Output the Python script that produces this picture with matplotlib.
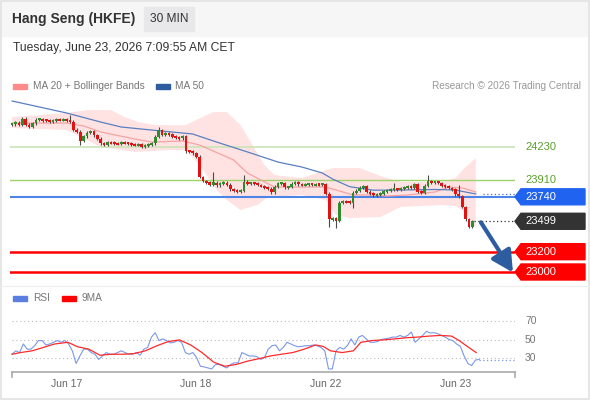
import numpy as np
import matplotlib
matplotlib.use("Agg")
import matplotlib.pyplot as plt
from matplotlib.patches import Rectangle, Polygon
import matplotlib.transforms as mtransforms

plt.rcParams['font.family'] = ['Liberation Sans', 'DejaVu Sans']

# ---------------- data ----------------
title = "Hang Seng (HKFE)"
timeframe = "30 MIN"
timestamp = "Tuesday, June 23, 2026 7:09:55 AM CET"
copyright_text = "Research \u00a9 2026 Trading Central"

first_open = 24450
closes = [
    24455, 24470, 24450, 24510, 24450, 24430, 24465, 24500, 24505, 24495,
    24490, 24485, 24495, 24500, 24498, 24502, 24495, 24480, 24400, 24380,
    24290, 24335, 24370, 24385, 24345, 24310, 24265, 24250, 24275, 24272,
    24266, 24262, 24274, 24270, 24262, 24258, 24250, 24256, 24230, 24246,
    24258, 24268, 24330, 24395, 24350, 24365, 24352, 24335, 24322, 24318,
    24335, 24190, 24185, 24170, 24135, 23935, 23895, 23880, 23862, 23880,
    23855, 23872, 23880, 23860, 23812, 23800, 23792, 23800, 23890, 23870,
    23875, 23868, 23856, 23846, 23832, 23818, 23786, 23840, 23872, 23876,
    23832, 23836, 23870, 23886, 23862, 23856, 23860, 23866, 23858, 23862,
    23860, 23866, 23770, 23520, 23530, 23505, 23680, 23695, 23690, 23680,
    23780, 23800, 23830, 23842, 23790, 23770, 23756, 23760, 23775, 23790,
    23800, 23812, 23815, 23810, 23822, 23835, 23840, 23830, 23862, 23790,
    23780, 23850, 23895, 23880, 23886, 23876, 23850, 23840, 23826, 23812,
    23765, 23745, 23640, 23520, 23445, 23499,
]
wick_high_idx = [3, 17, 43, 59, 68, 112, 122, 131]
wick_high_val = [24525, 24545, 24425, 23984, 23955, 23880, 23954, 23856]
wick_low_idx = [20, 93, 95, 100, 134, 135]
wick_low_val = [24250, 23443, 23430, 23630, 23430, 23433]

ma50_idx = [0, 16, 26, 32, 41, 53, 60, 70, 78, 85, 91, 94, 99, 106, 114, 124, 130, 133, 136]
ma50_val = [24683, 24565, 24476, 24427, 24397, 24358, 24279, 24171, 24082, 24033,
            23974, 23915, 23840, 23805, 23807, 23812, 23807, 23787, 23768]

ma20_idx = [0, 16, 21, 26, 36, 41, 50, 55, 65, 69, 73, 77, 85, 92, 95, 100, 105, 110, 116, 124, 128, 132, 136]
ma20_val = [24466, 24466, 24437, 24378, 24309, 24279, 24289, 24250, 24102, 23974,
            23905, 23836, 23836, 23836, 23807, 23758, 23758, 23748, 23758, 23787,
            23836, 23827, 23787]

bb_up_idx = [0, 16, 22, 29, 33, 37, 42, 51, 54, 59, 63, 67, 70, 74, 77, 85, 94, 102, 108, 114, 126, 130, 133, 136]
bb_up_val = [24525, 24565, 24594, 24594, 24525, 24476, 24446, 24446, 24496, 24574,
             24574, 24446, 24279, 24053, 23954, 23925, 24023, 24023, 23945, 23886,
             23886, 23925, 24033, 24122]
bb_lo_idx = [0, 16, 26, 36, 46, 51, 55, 60, 63, 67, 72, 75, 85, 92, 95, 99, 108, 114, 126, 130, 133, 136]
bb_lo_val = [24417, 24397, 24230, 24181, 24200, 24200, 24053, 23807, 23708, 23610,
             23659, 23738, 23758, 23708, 23561, 23531, 23541, 23640, 23659, 23649,
             23590, 23433]

resist_levels = [24230, 23910]
pivot_level = 23740
support_levels = [23200, 23000]
last_price = 23499
ma50_last = 23768
arrow_start = (137.5, 23489)
arrow_end = (146.9, 22995)

rsi_values = [
    34.1, 37.8, 35.9, 45.2, 39.6, 39.6, 43.3, 48.9, 48.9, 44.1,
    45.2, 47.0, 48.9, 47.0, 48.9, 45.2, 37.8, 24.1, 32.2, 39.6,
    39.6, 35.9, 34.1, 28.5, 32.2, 35.9, 34.1, 34.1, 35.9, 37.8,
    35.9, 34.1, 34.1, 35.9, 33.0, 39.6, 41.5, 52.6, 57.4, 48.9,
    50.7, 48.9, 46.3, 47.0, 48.9, 47.0, 35.9, 34.1, 35.9, 30.4,
    21.1, 20.4, 19.3, 18.2, 23.0, 23.0, 21.1, 19.3, 23.0, 24.8,
    24.8, 35.9, 34.1, 32.2, 32.2, 31.5, 28.5, 30.4, 39.6, 43.3,
    44.1, 37.8, 41.5, 47.0, 45.2, 43.3, 42.2, 42.6, 43.3, 43.3,
    44.1, 43.3, 41.5, 37.8, 18.2, 18.2, 37.8, 41.5, 39.6, 43.3,
    50.7, 44.1, 52.6, 54.4, 50.7, 47.0, 47.0, 47.8, 50.0, 50.7,
    51.5, 52.6, 52.6, 54.4, 52.6, 54.4, 58.1, 47.0, 50.7, 54.4,
    58.9, 57.0, 57.4, 56.3, 54.4, 52.6, 50.0, 48.9, 45.2, 42.6,
    32.2, 24.1, 21.9, 27.8, 28.5,
]
rsi_last_level = 27.8
rsi9_idx = [0, 2.5, 5.9, 9.2, 12.5, 16.4, 19.2, 22.5, 25.8, 29.1, 32.5, 35.8, 39.1, 42.5,
            45.8, 49.1, 52.4, 55.7, 59.1, 62.4, 65.7, 69.1, 72.4, 75.7, 79.0, 82.3, 85.7,
            89.0, 91.2, 93.4, 96.8, 100.1, 102.3, 105.6, 109.0, 112.3, 115.6, 118.9,
            122.3, 125.6, 128.9, 131.1, 133.9, 136.1]
rsi9_val = [34.1, 35.9, 37.8, 41.5, 45.2, 47.0, 42.2, 39.6, 33.0, 34.1, 34.1, 34.8, 37.8,
            43.3, 47.8, 49.6, 44.1, 35.9, 25.6, 21.1, 23.0, 26.7, 29.3, 32.2, 34.1, 35.9,
            39.6, 44.1, 42.6, 37.8, 35.9, 37.8, 47.0, 48.9, 49.6, 50.7, 51.9, 52.6,
            53.7, 54.4, 53.7, 48.9, 41.5, 35.9]
rsi_levels = [30, 50, 70]

date_idx = [16, 54, 92, 130]
date_labels = ["Jun 17", "Jun 18", "Jun 22", "Jun 23"]

# ---------------- figure ----------------
W, H = 590, 400
fig = plt.figure(figsize=(W / 100, H / 100), dpi=100)
fig.patch.set_facecolor('white')

def fx(px):
    return px / W

def fy(py):
    return 1 - py / H

# header band
fig.patches.append(Rectangle((0, fy(36)), 1, 36 / H, transform=fig.transFigure,
                             color='#f6f6f6', zorder=0))
fig.patches.append(Rectangle((fx(144), fy(31)), 50 / W, 24 / H, transform=fig.transFigure,
                             color='#e8e8eb', zorder=1))
fig.text(fx(12), fy(19), title, fontsize=10, fontweight='bold', color='#333333',
         va='center', ha='left')
fig.text(fx(169), fy(19), timeframe, fontsize=8.6, color='#333333', va='center', ha='center')
fig.text(fx(13), fy(48), timestamp, fontsize=8.7, color='#333333', va='center', ha='left')

# legend row
fig.patches.append(Rectangle((fx(13), fy(89)), 14 / W, 5 / H, transform=fig.transFigure,
                             color='#ff8a8a'))
fig.text(fx(33), fy(86), "MA 20 + Bollinger Bands", fontsize=7.3, color='#777777', va='center')
fig.patches.append(Rectangle((fx(156), fy(89)), 14 / W, 5 / H, transform=fig.transFigure,
                             color='#2f5c9e'))
fig.text(fx(175), fy(86), "MA 50", fontsize=7.3, color='#777777', va='center')
fig.text(fx(581), fy(86), copyright_text, fontsize=7.2, color='#999999', va='center', ha='right')

# RSI legend
fig.patches.append(Rectangle((fx(13), fy(301)), 14 / W, 5 / H, transform=fig.transFigure,
                             color='#5b7fe0'))
fig.text(fx(33), fy(298), "RSI", fontsize=7.3, color='#777777', va='center')
fig.patches.append(Rectangle((fx(62), fy(301)), 14 / W, 5 / H, transform=fig.transFigure,
                             color='#ff0000'))
fig.text(fx(82), fy(298), "9MA", fontsize=7.3, color='#777777', va='center')

# separator / border
fig.add_artist(plt.Line2D([fx(0), fx(590)], [fy(285.5), fy(285.5)], transform=fig.transFigure,
                          color='#eeeeee', lw=0.8))
fig.patches.append(Rectangle((0.001, 0.002), 0.997, 0.996, transform=fig.transFigure,
                             fill=False, edgecolor='#e2e2e2', lw=1.2))

# ---------------- main price axes ----------------
XMIN, XMAX = -0.6, 147.5
ax = fig.add_axes([fx(10), fy(285), 505 / W, 190 / H])
ax.set_xlim(XMIN, XMAX)
ax.set_ylim(22872, 24742)
ax.axis('off')

n = len(closes)
xs = np.arange(n)
c = np.array(closes, dtype=float)
o = np.concatenate([[first_open], c[:-1]])
hi = np.maximum(o, c) + 14
lo = np.minimum(o, c) - 14
for i, v in zip(wick_high_idx, wick_high_val):
    hi[i] = v
for i, v in zip(wick_low_idx, wick_low_val):
    lo[i] = v

# bollinger band
ax.fill(np.concatenate([bb_up_idx, bb_lo_idx[::-1]]),
        np.concatenate([bb_up_val, bb_lo_val[::-1]]),
        color='#ffe3e3', lw=0, zorder=1)

# levels
ax.axhline(resist_levels[0], color='#c9e4b6', lw=1.2, zorder=2)
ax.axhline(resist_levels[1], color='#9ed36a', lw=1.0, zorder=2)
ax.axhline(pivot_level, color='#4d84e8', lw=1.5, zorder=2)
for lv in support_levels:
    ax.axhline(lv, color='#ff0000', lw=1.8, zorder=2)

# moving averages
ax.plot(ma20_idx, ma20_val, color='#f7a3a3', lw=0.9, zorder=3)
ax.plot(ma50_idx, ma50_val, color='#5a7fc0', lw=0.9, zorder=3)

# candles
up = c >= o
body_bottom = np.minimum(o, c)
body_h = np.maximum(np.abs(c - o), 20)
body_bottom = np.where(np.abs(c - o) < 20, (o + c) / 2 - 10, body_bottom)
colors = np.where(up, '#2e8b2e', '#e31212')
ax.vlines(xs, lo, hi, color='#4a4a4a', lw=0.8, zorder=4)
ax.bar(xs, body_h, bottom=body_bottom, width=0.8, color=colors, lw=0, zorder=5)

# dotted last price / ma50 markers
ax.hlines(last_price, n - 0.5, XMAX, colors='#333333', linestyles=(0, (1, 2)), lw=0.9, zorder=3)
ax.hlines(ma50_last, 138, XMAX, colors='#4a72c8', linestyles=(0, (1, 2)), lw=0.9, zorder=3)

# arrow
ax.annotate('', xy=arrow_end, xytext=arrow_start,
            arrowprops=dict(arrowstyle='-|>,head_length=0.8,head_width=0.42',
                            color='#2e5d9f', lw=3.0, mutation_scale=16, shrinkA=0, shrinkB=0),
            zorder=6)

# right tags
trans = mtransforms.blended_transform_factory(ax.transAxes, ax.transData)
ppx = (24742 - 22872) / 190.0
tip = 6 / 505
right = 1 + 70 / 505

def tag(val, color):
    h = 8 * ppx
    pts = [(1.0, val), (1 + tip, val + h), (right, val + h), (right, val - h), (1 + tip, val - h)]
    ax.add_patch(Polygon(pts, closed=True, transform=trans, color=color, clip_on=False, zorder=7))
    ax.text(1 + 10 / 505, val, f"{val}", transform=trans, color='white', fontsize=8,
            va='center', ha='left', clip_on=False, zorder=8)

for lv in resist_levels:
    ax.text(1 + 10 / 505, lv, f"{lv}", transform=trans, color='#5aa02c', fontsize=8,
            va='center', ha='left', clip_on=False)
tag(pivot_level, '#1f63f0')
tag(last_price, '#333333')
for lv in support_levels:
    tag(lv, '#ff0000')

# ---------------- RSI axes ----------------
rx = fig.add_axes([fx(10), fy(372), 505 / W, 62 / H])
rx.set_xlim(XMIN, XMAX)
rx.set_ylim(14.9, 81.9)
for s in ['top', 'right', 'left', 'bottom']:
    rx.spines[s].set_visible(False)
rx.set_yticks([])
rx.set_xticks(date_idx)
rx.set_xticklabels(date_labels, fontsize=7.5, color='#666666')
rx.tick_params(axis='x', length=0, pad=5)

for lv in rsi_levels:
    rx.hlines(lv, 0, XMAX, colors='#bbbbbb', linestyles=(0, (1, 2.5)), lw=0.8)
rtrans = mtransforms.blended_transform_factory(rx.transAxes, rx.transData)
for lv in rsi_levels:
    rx.text(1 + 10 / 505, lv, str(lv), transform=rtrans, color='#777777', fontsize=7.5,
            va='center', ha='left', clip_on=False)

rsi_x = np.linspace(0, 137, len(rsi_values))
rx.plot(rsi_x, rsi_values, color='#7b98e8', lw=0.8)
rx.hlines(rsi_last_level, rsi_x[-1], XMAX, colors='#7b98e8', linestyles=(0, (1, 2)), lw=0.9)
rx.plot(rsi9_idx, rsi9_val, color='#ff2a2a', lw=0.9)

# bottom axis line with end ticks
fig.add_artist(plt.Line2D([fx(12), fx(515)], [fy(372), fy(372)], transform=fig.transFigure,
                          color='#aaaaaa', lw=1.2))
for px in (12, 515):
    fig.add_artist(plt.Line2D([fx(px), fx(px)], [fy(372), fy(377)], transform=fig.transFigure,
                              color='#aaaaaa', lw=1.2))

fig.savefig('out.png', dpi=100)
